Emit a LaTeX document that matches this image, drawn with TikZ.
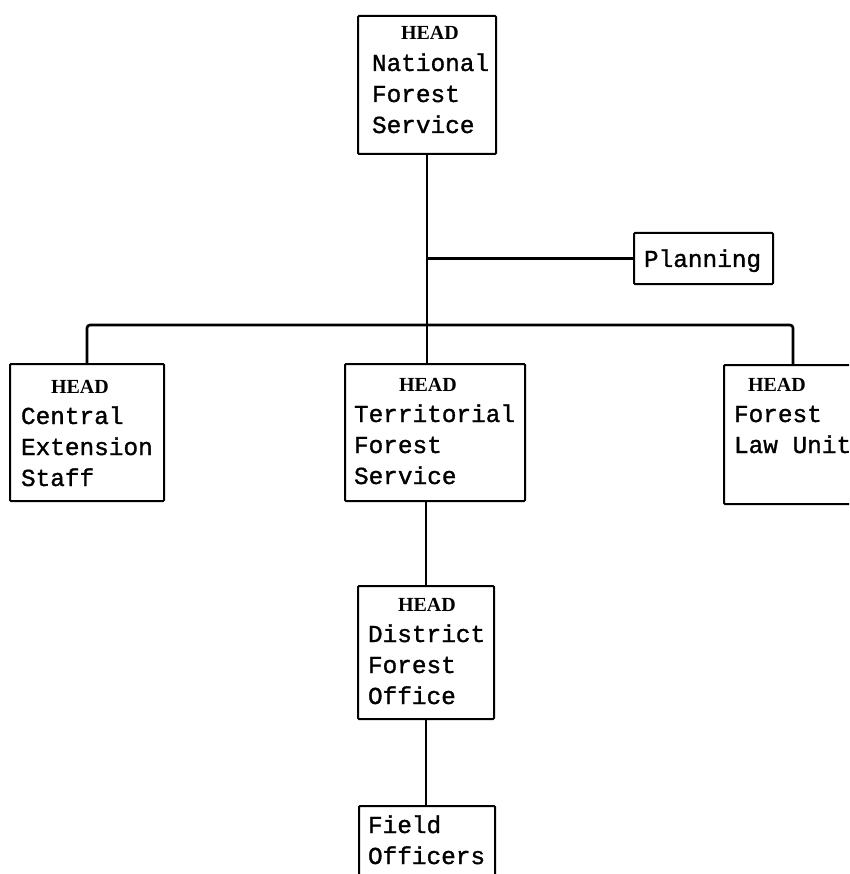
\documentclass[tikz,border=0pt]{standalone}
\usepackage{fontspec}
\newfontfamily\twfont{Liberation Mono}[FakeBold=1.2]
\newfontfamily\hdfont{Liberation Serif}
% box body: width, height, left padding, first baseline, lines
\newcommand\orgtext[5]{%
  \parbox[t][#2][t]{#1}{\twfont\fontsize{24.4}{31}\selectfont
    \raggedright\leftskip=#3\relax\rule{0pt}{#4}#5}}
% indented title word
\newcommand\headword[1]{\hspace*{#1}{\hdfont\bfseries\fontsize{20}{31}\selectfont HEAD}}
\tikzset{
  orgbox/.style={draw, line width=2pt, inner sep=0pt, anchor=north west,
    rounded corners=1pt, fill=white},
  link/.style={line width=2.6pt, rounded corners=3pt},
}
\begin{document}
\begin{tikzpicture}[x=1pt, y=-1pt]
  \clip (0,0) rectangle (849,874);
  \fill[white] (0,0) rectangle (849,874);

  % units
  \node[orgbox] (nfs) at (357,15)
    {\orgtext{138pt}{138pt}{14pt}{24pt}{\headword{29pt}\\National\\Forest\\Service}};
  \node[orgbox] (plan) at (633,232)
    {\orgtext{139pt}{51pt}{10pt}{34pt}{Planning}};
  \node[orgbox] (ces) at (9,363)
    {\orgtext{154pt}{137pt}{11pt}{29pt}{\headword{30pt}\\Central\\Extension\\Staff}};
  \node[orgbox] (tfs) at (344,363)
    {\orgtext{180pt}{137pt}{9pt}{27pt}{\headword{45pt}\\Territorial\\Forest\\Service}};
  \node[orgbox] (flu) at (723,364)
    {\orgtext{138pt}{139pt}{10pt}{26pt}{\headword{14pt}\\Forest\\Law Unit}};
  \node[orgbox] (dfo) at (357,585)
    {\orgtext{136pt}{133pt}{10pt}{25pt}{\headword{30pt}\\District\\Forest\\Office}};
  \node[orgbox] (fo) at (358,805)
    {\orgtext{136pt}{120pt}{9pt}{27pt}{Field\\Officers}};

  % connectors
  \coordinate (bar) at (0,325);
  \draw[link] (nfs.south) -- (nfs.south |- tfs.north);
  \draw[link] (nfs.south |- plan.west) -- (plan.west);
  \draw[link] (ces.north) -- (ces.north |- bar) -- (flu.north |- bar) -- (flu.north);
  \draw[link] (dfo.north |- tfs.south) -- (dfo.north);
  \draw[link] (dfo.south) -- (dfo.south |- fo.north);
\end{tikzpicture}
\end{document}
